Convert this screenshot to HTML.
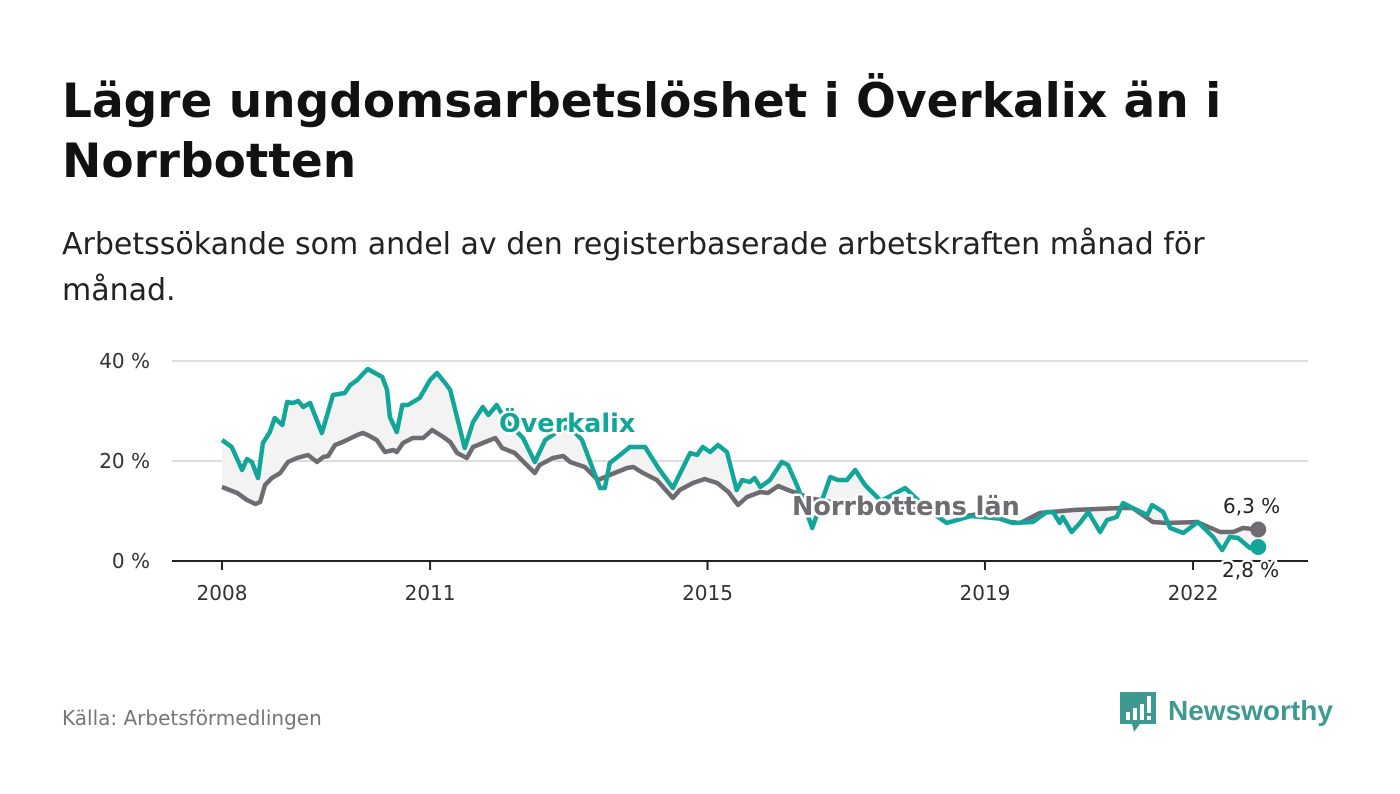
<!DOCTYPE html>
<html><head><meta charset="utf-8"><style>
body{margin:0;width:1400px;height:794px;background:#fff;font-family:"DejaVu Sans","Liberation Sans",sans-serif;overflow:hidden;position:relative}
.t{position:absolute;left:62px;top:72px;font-size:47px;font-weight:bold;color:#111;line-height:60px;white-space:nowrap}
.s{position:absolute;left:62px;top:222px;font-size:30px;color:#222;line-height:46px;white-space:nowrap}
.src{position:absolute;left:62px;top:706px;font-size:20px;color:#777}
</style></head><body>
<div class="t">Lägre ungdomsarbetslöshet i Överkalix än i<br>Norrbotten</div>
<div class="s">Arbetssökande som andel av den registerbaserade arbetskraften månad för<br>månad.</div>
<div class="src">Källa: Arbetsförmedlingen</div>
<svg style="position:absolute;left:1118px;top:690px" width="230" height="48">
<path d="M2 2h36v32H22l-6 8-2-8H2z" fill="#3e9a91"/>
<rect x="8" y="22" width="4" height="8" fill="#fff"/><rect x="15" y="18" width="4" height="12" fill="#fff"/><rect x="22" y="14" width="4" height="16" fill="#fff"/><rect x="29" y="6" width="4" height="17" fill="#fff"/><rect x="29" y="26" width="4" height="4" fill="#fff"/>
<text x="50" y="30" font-size="28" font-weight="bold" fill="#3e9a91" font-family="Liberation Sans, sans-serif">Newsworthy</text>
</svg>
<svg id="c" width="1400" height="794" style="position:absolute;left:0;top:0"></svg>
<script>
const tealT=[2008.00,2008.14,2008.29,2008.36,2008.43,2008.52,2008.59,2008.69,2008.76,2008.87,2008.94,2009.02,2009.10,2009.17,2009.27,2009.44,2009.60,2009.77,2009.85,2009.95,2010.10,2010.31,2010.38,2010.42,2010.52,2010.60,2010.68,2010.85,2011.00,2011.10,2011.24,2011.29,2011.50,2011.62,2011.76,2011.84,2011.96,2012.10,2012.34,2012.51,2012.66,2012.85,2013.00,2013.19,2013.45,2013.52,2013.59,2013.74,2013.88,2014.10,2014.29,2014.50,2014.75,2014.85,2014.93,2015.04,2015.15,2015.28,2015.42,2015.50,2015.61,2015.68,2015.76,2015.90,2016.07,2016.16,2016.30,2016.51,2016.77,2016.88,2017.01,2017.13,2017.27,2017.5,2017.85,2018.2,2018.45,2018.8,2019.2,2019.40,2019.69,2019.89,2019.98,2020.08,2020.12,2020.25,2020.37,2020.49,2020.66,2020.76,2020.90,2020.99,2021.13,2021.34,2021.41,2021.57,2021.67,2021.86,2022.07,2022.29,2022.42,2022.53,2022.65,2022.82,2022.94];
const tealV=[24.2,22.8,18.2,20.4,19.8,16.6,23.6,25.8,28.6,27.2,31.8,31.6,32.0,30.8,31.6,25.6,33.2,33.6,35.2,36.2,38.4,36.8,34.2,28.8,25.8,31.2,31.2,32.6,36.2,37.6,35.2,34.2,22.6,27.8,30.8,29.2,31.2,28,24.6,19.8,24.2,26,27,24.2,14.6,14.6,19.6,21.2,22.8,22.8,18.6,14.6,21.6,21.2,22.8,21.8,23.2,21.8,14.2,16.2,15.8,16.6,14.8,16.2,19.8,19.2,14.8,6.6,16.8,16.2,16.2,18.2,15.2,12,14.6,10,7.6,9,8.5,7.6,7.8,9.8,9.8,7.6,8.8,5.8,7.6,9.8,5.8,8.2,8.8,11.6,10.6,9.2,11.2,9.8,6.6,5.6,7.8,4.8,2.2,4.8,4.6,2.6,2.8];
const grayT=[2008.00,2008.22,2008.36,2008.48,2008.55,2008.62,2008.72,2008.84,2008.95,2009.08,2009.24,2009.37,2009.46,2009.53,2009.63,2009.74,2009.95,2010.03,2010.10,2010.23,2010.35,2010.47,2010.52,2010.61,2010.75,2010.90,2011.03,2011.19,2011.29,2011.39,2011.53,2011.62,2011.76,2011.94,2012.04,2012.22,2012.51,2012.58,2012.77,2012.92,2013.02,2013.23,2013.42,2013.59,2013.84,2013.93,2014.07,2014.27,2014.50,2014.60,2014.79,2014.96,2015.14,2015.30,2015.44,2015.57,2015.76,2015.87,2016.02,2016.16,2016.5,2016.9,2017.3,2017.7,2018.0,2018.4,2018.7,2019.0,2019.36,2019.51,2019.79,2020.27,2020.95,2021.13,2021.42,2021.62,2022.06,2022.39,2022.58,2022.72,2022.94];
const grayV=[14.8,13.6,12.2,11.4,11.8,15.2,16.6,17.6,19.8,20.6,21.2,19.8,20.8,21.0,23.2,23.8,25.2,25.6,25.2,24.2,21.8,22.2,21.8,23.6,24.6,24.6,26.2,24.8,23.8,21.6,20.6,22.8,23.6,24.6,22.6,21.6,17.6,19.2,20.6,21.0,19.8,18.8,16.2,17.2,18.6,18.8,17.6,16.2,12.6,14.2,15.6,16.4,15.6,13.8,11.2,12.8,13.8,13.6,15.0,14.2,12.5,11.5,11,10.5,10.5,10,9,9.5,7.8,7.6,9.6,10.2,10.6,10.6,7.8,7.6,7.8,5.8,5.8,6.6,6.3];
const yTicks=[0,20,40];
const xTicks=[2008,2011,2015,2019,2022];
const NS='http://www.w3.org/2000/svg',svg=document.getElementById('c');
const X=t=>222+(t-2008)*69.36, Y=v=>561-v*5;
const FF='DejaVu Sans, Liberation Sans, sans-serif';
function mk(tag,at,parent){const e=document.createElementNS(NS,tag);for(const k in at)e.setAttribute(k,at[k]);(parent||svg).appendChild(e);return e;}
yTicks.forEach(v=>{
 if(v>0){const g=mk('line',{x1:172,x2:1308,y1:Y(v),y2:Y(v),stroke:'#ddd','stroke-width':2});
 
 }
 const l=mk('text',{x:150,y:Y(v)+7,'text-anchor':'end','font-size':20,fill:'#333','font-family':FF});l.textContent=v+' %';
 
 
});
let pts=tealT.map((t,i)=>X(t)+','+Y(tealV[i])).concat(grayT.slice().reverse().map((t,i)=>X(t)+','+Y(grayV[grayV.length-1-i])));
const ar=mk('polygon',{points:pts.join(' '),fill:'#f3f3f3'});


const ax=mk('line',{x1:172,x2:1308,y1:561,y2:561,stroke:'#222','stroke-width':2});


xTicks.forEach(t=>{
 mk('line',{x1:X(t),x2:X(t),y1:561,y2:570,stroke:'#222','stroke-width':2});
 const l=mk('text',{x:X(t),y:600,'text-anchor':'middle','font-size':20,fill:'#333','font-family':FF});l.textContent=t;
 
 
});
const gl=mk('polyline',{points:grayT.map((t,i)=>X(t)+','+Y(grayV[i])).join(' '),fill:'none',stroke:'#6e6c70','stroke-width':4.5,'stroke-linejoin':'round'});


const tl=mk('polyline',{points:tealT.map((t,i)=>X(t)+','+Y(tealV[i])).join(' '),fill:'none',stroke:'#12a599','stroke-width':4.5,'stroke-linejoin':'round'});


const gd=mk('circle',{cx:X(grayT[grayT.length-1]),cy:Y(grayV[grayV.length-1]),r:8,fill:'#6e6c70'});


const td=mk('circle',{cx:X(tealT[tealT.length-1]),cy:Y(tealV[tealV.length-1]),r:8,fill:'#12a599'});


function lab(txt,x,y,col,sz,bold){const e=mk('text',{x:x,y:y,'font-size':sz,'font-weight':bold?'bold':'normal',fill:col,stroke:'#fff','stroke-width':5,'paint-order':'stroke','stroke-linejoin':'round','font-family':FF});e.textContent=txt;return e;}
const a=lab('Överkalix',499,432,'#12a599',25.5,true);


const b=lab('Norrbottens län',792,515,'#6e6c70',25.5,true);


const c=lab('6,3 %',1223,513,'#222',20,false);


const d=lab('2,8 %',1222,577,'#222',20,false);


</script>
</body></html>
